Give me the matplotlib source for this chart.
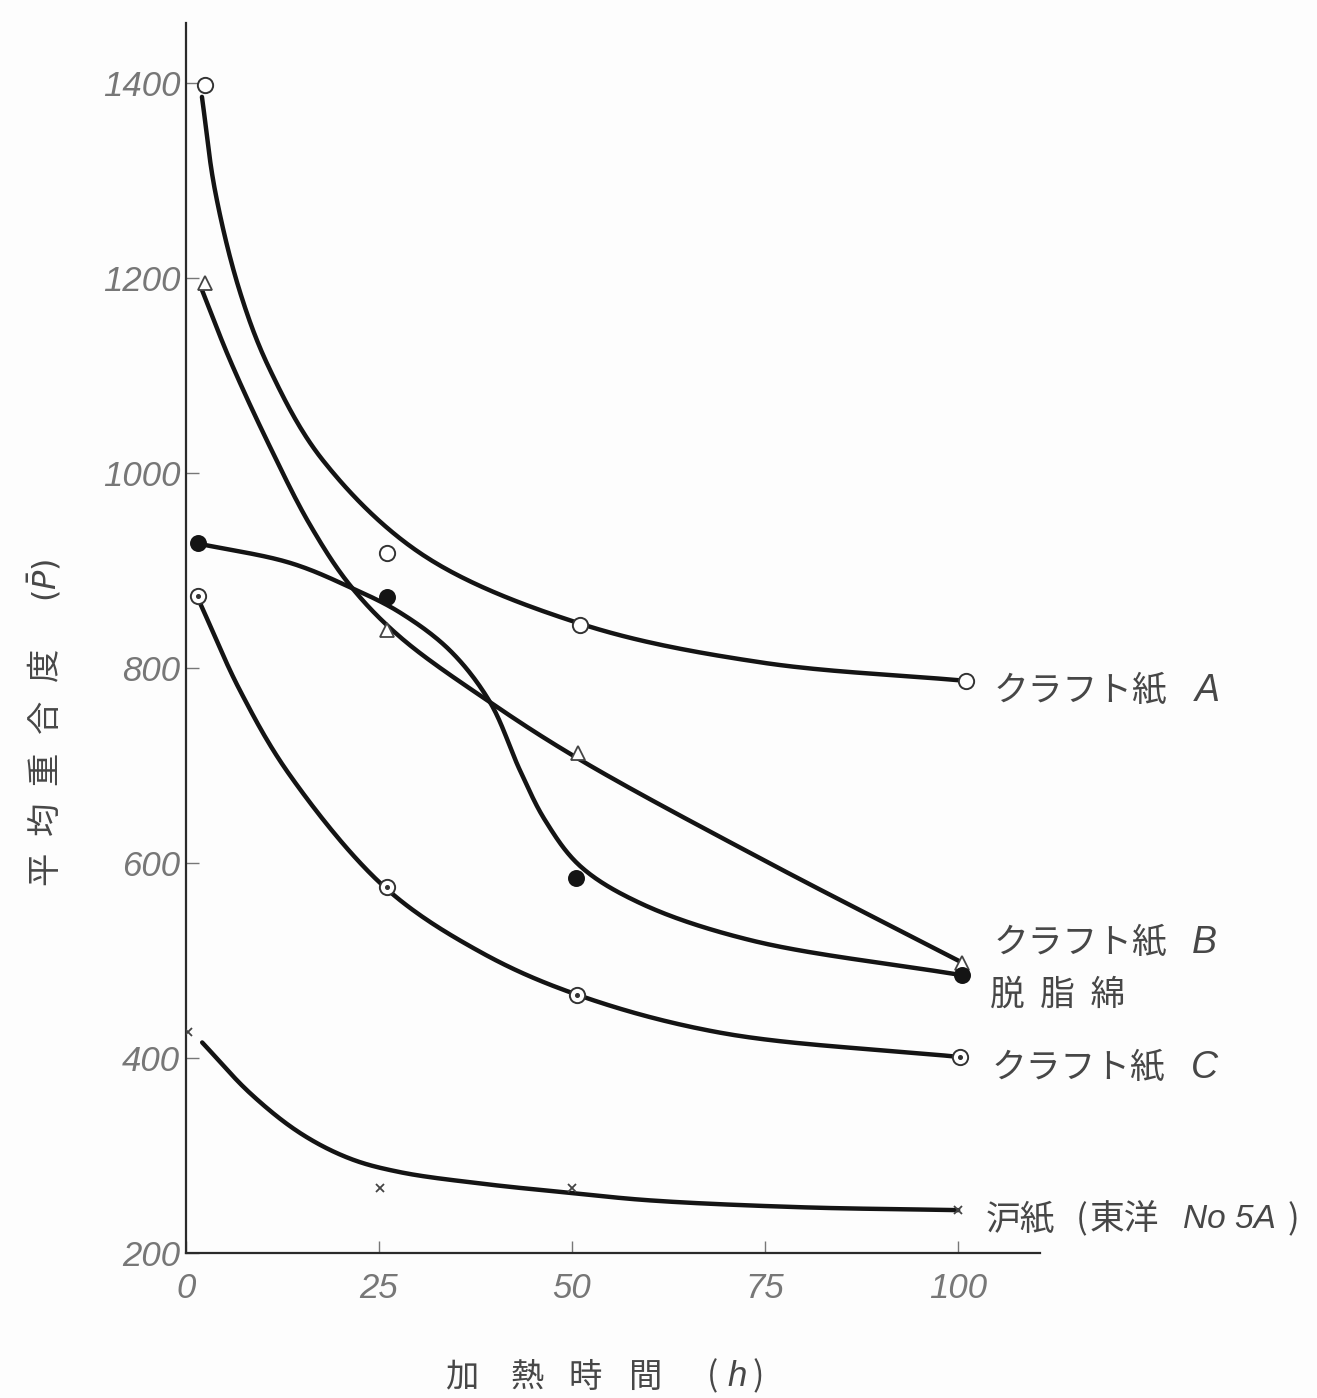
import numpy as np
import matplotlib
matplotlib.use("Agg")
import matplotlib.pyplot as plt

# ---- measured degree of polymerisation vs. heating time ----
hours_kraft_a = [2.5, 26.0, 51.0, 101.0]
dp_kraft_a = [1398, 918, 844, 787]

hours_kraft_b = [2.5, 26.0, 50.8, 100.5]
dp_kraft_b = [1195, 839, 713, 498]

hours_cotton = [1.6, 26.0, 50.5, 100.5]
dp_cotton = [928, 873, 585, 485]

hours_kraft_c = [1.6, 26.0, 50.6, 100.3]
dp_kraft_c = [874, 575, 465, 401]

hours_filter = [0.3, 25.1, 50.0, 100.0]
dp_filter = [427, 267, 267, 244]

# ---- hand-faired trend curves (knots along each curve) ----
curve_a_h = [2.07, 3.76, 6.99, 10.88, 17.75, 30.7, 51.3, 74.35, 100.9]
curve_a_p = [1386, 1290, 1186, 1106, 1013, 916, 845, 806, 787]

curve_b_h = [2.07, 5.7, 10.88, 16.06, 21.24, 27.72, 39.38, 51.04, 74.35, 100.5]
curve_b_p = [1188, 1116, 1027, 947, 885, 832, 765, 706, 605, 498]

curve_cotton_h = [1.42, 13.47, 21.24, 27.72, 34.2, 39.38, 43.26, 46.5, 51.04,
                  58.8, 73.06, 100.5]
curve_cotton_p = [928, 908, 883, 857, 818, 765, 695, 644, 597,
                  559, 521, 485]

curve_c_h = [1.81, 7.0, 13.47, 25.78, 38.08, 50.65, 69.2, 100.3]
curve_c_p = [867, 777, 690, 575, 509, 465, 426, 401]

curve_f_h = [2.1, 8.3, 14.8, 21.2, 27.7, 38.5, 49.4, 60.1, 79.5, 100.0]
curve_f_p = [416, 364, 323, 297, 283, 271, 262, 254, 247, 244]

x_ticks = [0, 25, 50, 75, 100]
y_ticks = [200, 400, 600, 800, 1000, 1200, 1400]

CJK = ["Noto Sans CJK JP", "DejaVu Sans"]
NUM = ["Liberation Sans Narrow", "Liberation Sans", "DejaVu Sans"]
INK = "#141414"
TEXT = "#474747"
TICK = "#777777"

W, H = 1317, 1398


def fpos(px, py):
    """Pixel position on the canvas -> figure fraction."""
    return px / W, 1 - py / H


def centripetal_spline(ax, xs, ys, n=30):
    """Centripetal Catmull-Rom curve through the knots, built in display space."""
    pts = ax.transData.transform(np.column_stack([xs, ys]))
    pts = np.vstack([2 * pts[0] - pts[1], pts, 2 * pts[-1] - pts[-2]])
    out = []
    for i in range(1, len(pts) - 2):
        p0, p1, p2, p3 = pts[i - 1], pts[i], pts[i + 1], pts[i + 2]
        t0 = 0.0
        t1 = t0 + np.linalg.norm(p1 - p0) ** 0.5
        t2 = t1 + np.linalg.norm(p2 - p1) ** 0.5
        t3 = t2 + np.linalg.norm(p3 - p2) ** 0.5
        t = np.linspace(t1, t2, n, endpoint=False)[:, None]
        a1 = (t1 - t) / (t1 - t0) * p0 + (t - t0) / (t1 - t0) * p1
        a2 = (t2 - t) / (t2 - t1) * p1 + (t - t1) / (t2 - t1) * p2
        a3 = (t3 - t) / (t3 - t2) * p2 + (t - t2) / (t3 - t2) * p3
        b1 = (t2 - t) / (t2 - t0) * a1 + (t - t0) / (t2 - t0) * a2
        b2 = (t3 - t) / (t3 - t1) * a2 + (t - t1) / (t3 - t1) * a3
        out.append((t2 - t) / (t2 - t1) * b1 + (t - t1) / (t2 - t1) * b2)
    out.append(pts[-2][None, :])
    data = ax.transData.inverted().transform(np.vstack(out))
    return data[:, 0], data[:, 1]


fig = plt.figure(figsize=(W / 100, H / 100), dpi=100)
fig.patch.set_facecolor("#fdfdfd")
ax = fig.add_axes([0.1412, 0.1037, 0.6485, 0.880])
ax.set_facecolor("#fdfdfd")
ax.set_xlim(0, 110.6)
ax.set_ylim(200, 1462)

for hx, py in [(curve_a_h, curve_a_p), (curve_b_h, curve_b_p),
               (curve_cotton_h, curve_cotton_p), (curve_c_h, curve_c_p),
               (curve_f_h, curve_f_p)]:
    sx, sy = centripetal_spline(ax, hx, py)
    ax.plot(sx, sy, color=INK, lw=3.2, solid_capstyle="round", zorder=2)

# markers
ax.plot(hours_kraft_a, dp_kraft_a, ls="none", marker="o", ms=11, mfc="white",
        mec="#333333", mew=1.4, zorder=4)
ax.plot(hours_kraft_b, dp_kraft_b, ls="none", marker="^", ms=10, mfc="white",
        mec="#444444", mew=1.3, zorder=4)
ax.plot(hours_cotton, dp_cotton, ls="none", marker="o", ms=11, mfc=INK,
        mec=INK, mew=1.2, zorder=4)
ax.plot(hours_kraft_c, dp_kraft_c, ls="none", marker="o", ms=11, mfc="white",
        mec="#333333", mew=1.4, zorder=4)
ax.plot(hours_kraft_c, dp_kraft_c, ls="none", marker="o", ms=2.6, mfc="#333333",
        mec="#333333", zorder=5)
ax.plot(hours_filter, dp_filter, ls="none", marker="x", ms=6, mec="#444444",
        mew=1.3, zorder=4)

# axes frame
for side in ("top", "right"):
    ax.spines[side].set_visible(False)
for side in ("left", "bottom"):
    ax.spines[side].set_linewidth(1.6)
    ax.spines[side].set_color("#2a2a2a")

ax.set_xticks(x_ticks)
ax.set_xticklabels([str(v) for v in x_ticks])
ax.set_yticks(y_ticks)
ax.set_yticklabels([str(v) for v in y_ticks])
ax.tick_params(axis="both", direction="in", length=9, width=1.0, color="#777777")
ax.tick_params(axis="x", pad=14)
ax.tick_params(axis="y", pad=4)
for lab in ax.get_xticklabels() + ax.get_yticklabels():
    lab.set_family(NUM)
    lab.set_style("italic")
    lab.set_fontsize(25)
    lab.set_color(TICK)

# series labels on the right
lab_kw = dict(family=CJK, fontsize=25, color=TEXT, va="center", ha="left",
              clip_on=False)
lat_kw = dict(family=NUM, style="italic", fontsize=27, color=TEXT, va="center",
              ha="left", clip_on=False)
ax.text(104.6, 777, "クラフト紙", **lab_kw)
ax.text(130.6, 777, "A", **lat_kw)
ax.text(104.6, 518, "クラフト紙", **lab_kw)
ax.text(130.2, 518, "B", **lat_kw)
ax.text(104.1, 465, "脱  脂  綿", **lab_kw)
ax.text(104.3, 390, "クラフト紙", **lab_kw)
ax.text(130.2, 390, "C", **lat_kw)
ax.text(103.5, 234, "沪紙", **lab_kw)
ax.text(115.2, 234, "(", **lab_kw)
ax.text(117.0, 234, "東洋", **lab_kw)
ax.text(129.1, 234, "No 5A", **dict(lat_kw, fontsize=24))
ax.text(142.6, 234, ")", **lab_kw)

# axis titles, one glyph at a time with the wide letter spacing
for ch, yy in zip("平均重合度", [868, 818, 768, 716, 664]):
    fig.text(*fpos(45, yy), ch, family=CJK, fontsize=24, color=TEXT,
             rotation=90, ha="center", va="center")
fig.text(*fpos(45, 580), r"$(\bar{P})$", fontsize=23, color=TEXT, rotation=90,
         ha="center", va="center")

for ch, xx in zip("加熱時間", [462, 527, 585, 646]):
    fig.text(*fpos(xx, 1377), ch, family=CJK, fontsize=24, color=TEXT,
             ha="center", va="center")
fig.text(*fpos(713, 1377), "(", family=CJK, fontsize=24, color=TEXT,
         ha="center", va="center")
fig.text(*fpos(737, 1377), "h", family=NUM, style="italic", fontsize=25,
         color=TEXT, ha="center", va="center")
fig.text(*fpos(758, 1377), ")", family=CJK, fontsize=24, color=TEXT,
         ha="center", va="center")

fig.savefig("out.png", dpi=100, facecolor=fig.get_facecolor())
